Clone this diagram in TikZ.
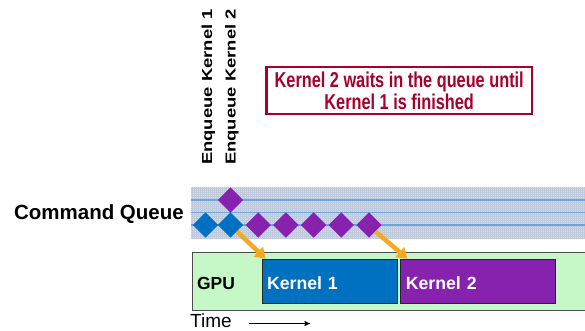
\documentclass[tikz,border=0pt]{standalone}
\usepackage{fontspec}
\setmainfont{Liberation Sans}
\usepackage{xcolor}
\usetikzlibrary{arrows,arrows.meta}
\usetikzlibrary{shapes.geometric}
\usetikzlibrary{positioning}

\definecolor{queuebg}{HTML}{D3DCEA}
\definecolor{queuegrid}{HTML}{BFCBDD}
\definecolor{queueline}{HTML}{6FA3DC}
\definecolor{kblue}{HTML}{0070C0}
\definecolor{kpurple}{HTML}{8722AE}
\definecolor{waitorange}{HTML}{F5A91E}
\definecolor{gpugreen}{HTML}{C6F7C6}
\definecolor{notered}{HTML}{A6002B}

\newcommand{\tallline}[1]{\scalebox{1}[1.32]{#1}}

\begin{document}
\begin{tikzpicture}[x=1pt,y=-1pt,>=stealth',node distance=27.7pt,
                    font=\bfseries]
  \tikzstyle{cmd}=[diamond, aspect=1, inner sep=0pt, minimum width=25.5pt, minimum height=25.5pt, draw=none]
  \tikzstyle{kernelbox}=[rectangle, draw=black!85, line width=0.8pt, minimum height=44pt, inner xsep=5pt, align=left, text=white, text height=16pt, text depth=0pt, font=\bfseries\fontsize{17.7}{20}\selectfont]
  \tikzstyle{waitarrow}=[-{Triangle[width=13pt,length=10pt]}, line width=4.5pt, draw=waitorange]
  \tikzstyle{enq}=[rotate=90, anchor=base west, inner sep=0pt, font=\bfseries\fontsize{14.5}{16}\selectfont]
  \useasboundingbox (0,0) rectangle (585,331);

  % command queue band
  \fill[queuebg] (191,187) rectangle (590,238);
  \draw[queuegrid, line width=0.3pt, step=2pt] (191,187) grid (590,238);
  \foreach \y in {200,212.5,225}
    \draw[queueline, line width=1.4pt] (191,\y) -- (590,\y);

  % queued commands
  \node[cmd, fill=kblue] (q1) at (205.5,225) {};
  \node[cmd, fill=kblue, node distance=25pt, right of=q1] (q2) {};
  \node[cmd, fill=kpurple, node distance=25pt, above of=q2] (q2top) {};
  \node[cmd, fill=kpurple, right of=q2] (p1) {};
  \foreach \i/\j in {1/2,2/3,3/4,4/5}
    \node[cmd, fill=kpurple, right of=p\i] (p\j) {};

  \node[anchor=base east, inner sep=0pt, font=\bfseries\fontsize{20.5}{24}\selectfont] (cq) at (184,219.5) {Command Queue};

  \node[enq] (enq1) at (212,165) {\scalebox{1.27}[1]{Enqueue Kernel 1}};
  \node[enq] (enq2) at (235.5,165) {\scalebox{1.27}[1]{Enqueue Kernel 2}};

  \node[draw=notered, line width=2.7pt, minimum width=265.6pt, minimum height=47pt, text=notered, align=center, inner sep=0pt, font=\bfseries\fontsize{16.3}{21.7}\selectfont] (note) at (399.2,90.5)
    {\tallline{Kernel 2 waits in the queue until}\\\tallline{Kernel 1 is finished}};

  % gpu timeline
  \node[draw=black!70, line width=0.8pt, fill=gpugreen, minimum width=398pt, minimum height=58pt, inner xsep=5pt, text width=388pt, align=left, text height=17pt, text depth=0pt, font=\bfseries\fontsize{17.5}{20}\selectfont] (gpu) at (391,281) {GPU};
  \node[kernelbox, fill=kblue, minimum width=135pt, text width=125pt] (k1) at (329.5,281) {Kernel 1};
  \node[kernelbox, fill=kpurple, minimum width=155pt, text width=145pt, right=3pt of k1] (k2) {Kernel 2};

  \draw[waitarrow] (q2.south east) -- ([xshift=4pt]k1.north west);
  \draw[waitarrow] (p5.south east) -- ([xshift=7pt]k2.north west);

  \node[anchor=base west, inner sep=0pt, font=\mdseries\fontsize{19}{22}\selectfont] (time) at (190,327.5) {Time};
  \coordinate (timeend) at (310,323.5);
  \draw[->, line width=1pt] ([shift={(17,-4)}]time.base east) -- (timeend);
\end{tikzpicture}
\end{document}
